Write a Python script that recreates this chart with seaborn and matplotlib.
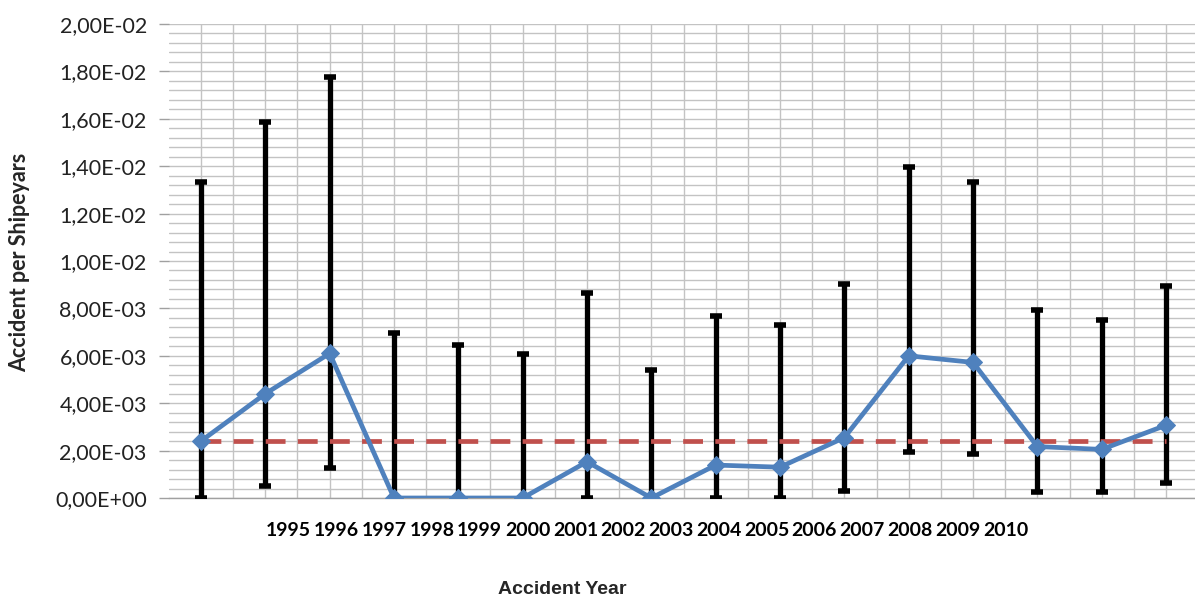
import numpy as np
import pandas as pd
import matplotlib
matplotlib.use("Agg")
import matplotlib.pyplot as plt
from matplotlib.ticker import MultipleLocator, FuncFormatter
import seaborn as sns

# Accident rate per ship-year with confidence bounds, 1995-2010
years = ["1995", "1996", "1997", "1998", "1999", "2000", "2001", "2002",
         "2003", "2004", "2005", "2006", "2007", "2008", "2009", "2010"]
rate = [2.40e-3, 4.40e-3, 6.10e-3, 0.0, 0.0, 0.0, 1.53e-3, 0.0,
        1.39e-3, 1.30e-3, 2.55e-3, 6.00e-3, 5.72e-3, 2.17e-3, 2.05e-3, 3.07e-3]
upper = [1.333e-2, 1.585e-2, 1.775e-2, 6.95e-3, 6.47e-3, 6.07e-3, 8.63e-3, 5.38e-3,
         7.70e-3, 7.32e-3, 9.03e-3, 1.395e-2, 1.335e-2, 7.92e-3, 7.52e-3, 8.93e-3]
lower = [0.0, 5.2e-4, 1.25e-3, 0.0, 0.0, 0.0, 0.0, 0.0,
         0.0, 0.0, 2.8e-4, 1.92e-3, 1.85e-3, 2.5e-4, 2.5e-4, 6.3e-4]
avg_rate = 2.40e-3

BLUE = "#4F81BD"
RED = "#C0504D"
GRID = "#C3C3C3"

sns.set_style("white")
plt.rcParams["font.family"] = ["Lato", "DejaVu Sans"]

fig = plt.figure(figsize=(11.95, 6.01), dpi=100)
W, H = 1195, 601
ax = fig.add_axes([169 / W, (H - 498) / H, (1195 - 169) / W, 474 / H])

pos = np.arange(len(years))
df = pd.DataFrame({"pos": pos, "rate": rate, "upper": upper, "lower": lower,
                   "avg": np.full(len(years), avg_rate)})

# confidence bounds as capped vertical bars
err = np.vstack([df["rate"] - df["lower"], df["upper"] - df["rate"]])
ax.errorbar(df["pos"], df["rate"], yerr=err, fmt="none", ecolor="black",
            elinewidth=3.8, capsize=4.5, capthick=4, zorder=3)

# overall average rate
sns.lineplot(data=df, x="pos", y="avg", ax=ax, color=RED, linewidth=3.4,
             dashes=False, zorder=4)
ax.lines[-1].set_dashes((4.2, 2.6))

# yearly rate
sns.lineplot(data=df, x="pos", y="rate", ax=ax, color=BLUE, linewidth=3.4,
             marker="D", markersize=9, markeredgecolor=BLUE, zorder=5)

ax.set_xlim(-0.497, 15.45)
ax.set_ylim(0, 0.02)
ax.yaxis.set_major_locator(MultipleLocator(0.002))
ax.yaxis.set_minor_locator(MultipleLocator(0.0004))
ax.xaxis.set_major_locator(MultipleLocator(1.0))
ax.xaxis.set_minor_locator(MultipleLocator(0.5, offset=0.5))


def sci_comma(v, _):
    return f"{v:.2E}".replace(".", ",")


ax.yaxis.set_major_formatter(FuncFormatter(sci_comma))
ax.grid(True, which="both", axis="both", color=GRID, linewidth=1.0)
ax.set_axisbelow(True)
ax.tick_params(axis="y", which="major", length=7, color="#A0A0A0", width=1,
               labelsize=15.5, pad=9, labelcolor="#222222", left=True)
ax.tick_params(axis="y", which="minor", length=0)
ax.tick_params(axis="x", which="both", length=0, labelbottom=False)
for side in ["top", "right", "left"]:
    ax.spines[side].set_visible(False)
ax.spines["bottom"].set_color("#A0A0A0")
ax.spines["bottom"].set_linewidth(1.0)
ax.set_xlabel("")
ax.set_ylabel("")

# year labels on their own category scale beneath the plot
lab = ax.twiny()
lab.set_xlim(-2.5, 18.96)
lab.xaxis.set_ticks_position("bottom")
lab.set_xticks(pos)
lab.set_xticklabels(years, fontsize=14, fontweight="bold", color="black")
lab.tick_params(axis="x", length=0, pad=17)
for sp in lab.spines.values():
    sp.set_visible(False)
lab.grid(False)

fig.text(562 / W, 1 - 589 / H, "Accident Year", ha="center", va="center",
         fontsize=14, fontweight="bold", family=["Liberation Sans", "DejaVu Sans"])
fig.text(20 / W, 1 - 262 / H, "Accident per Shipeyars", ha="center", va="center",
         rotation=90, fontsize=15.5, fontweight="bold")

fig.savefig("out.png", dpi=100)
